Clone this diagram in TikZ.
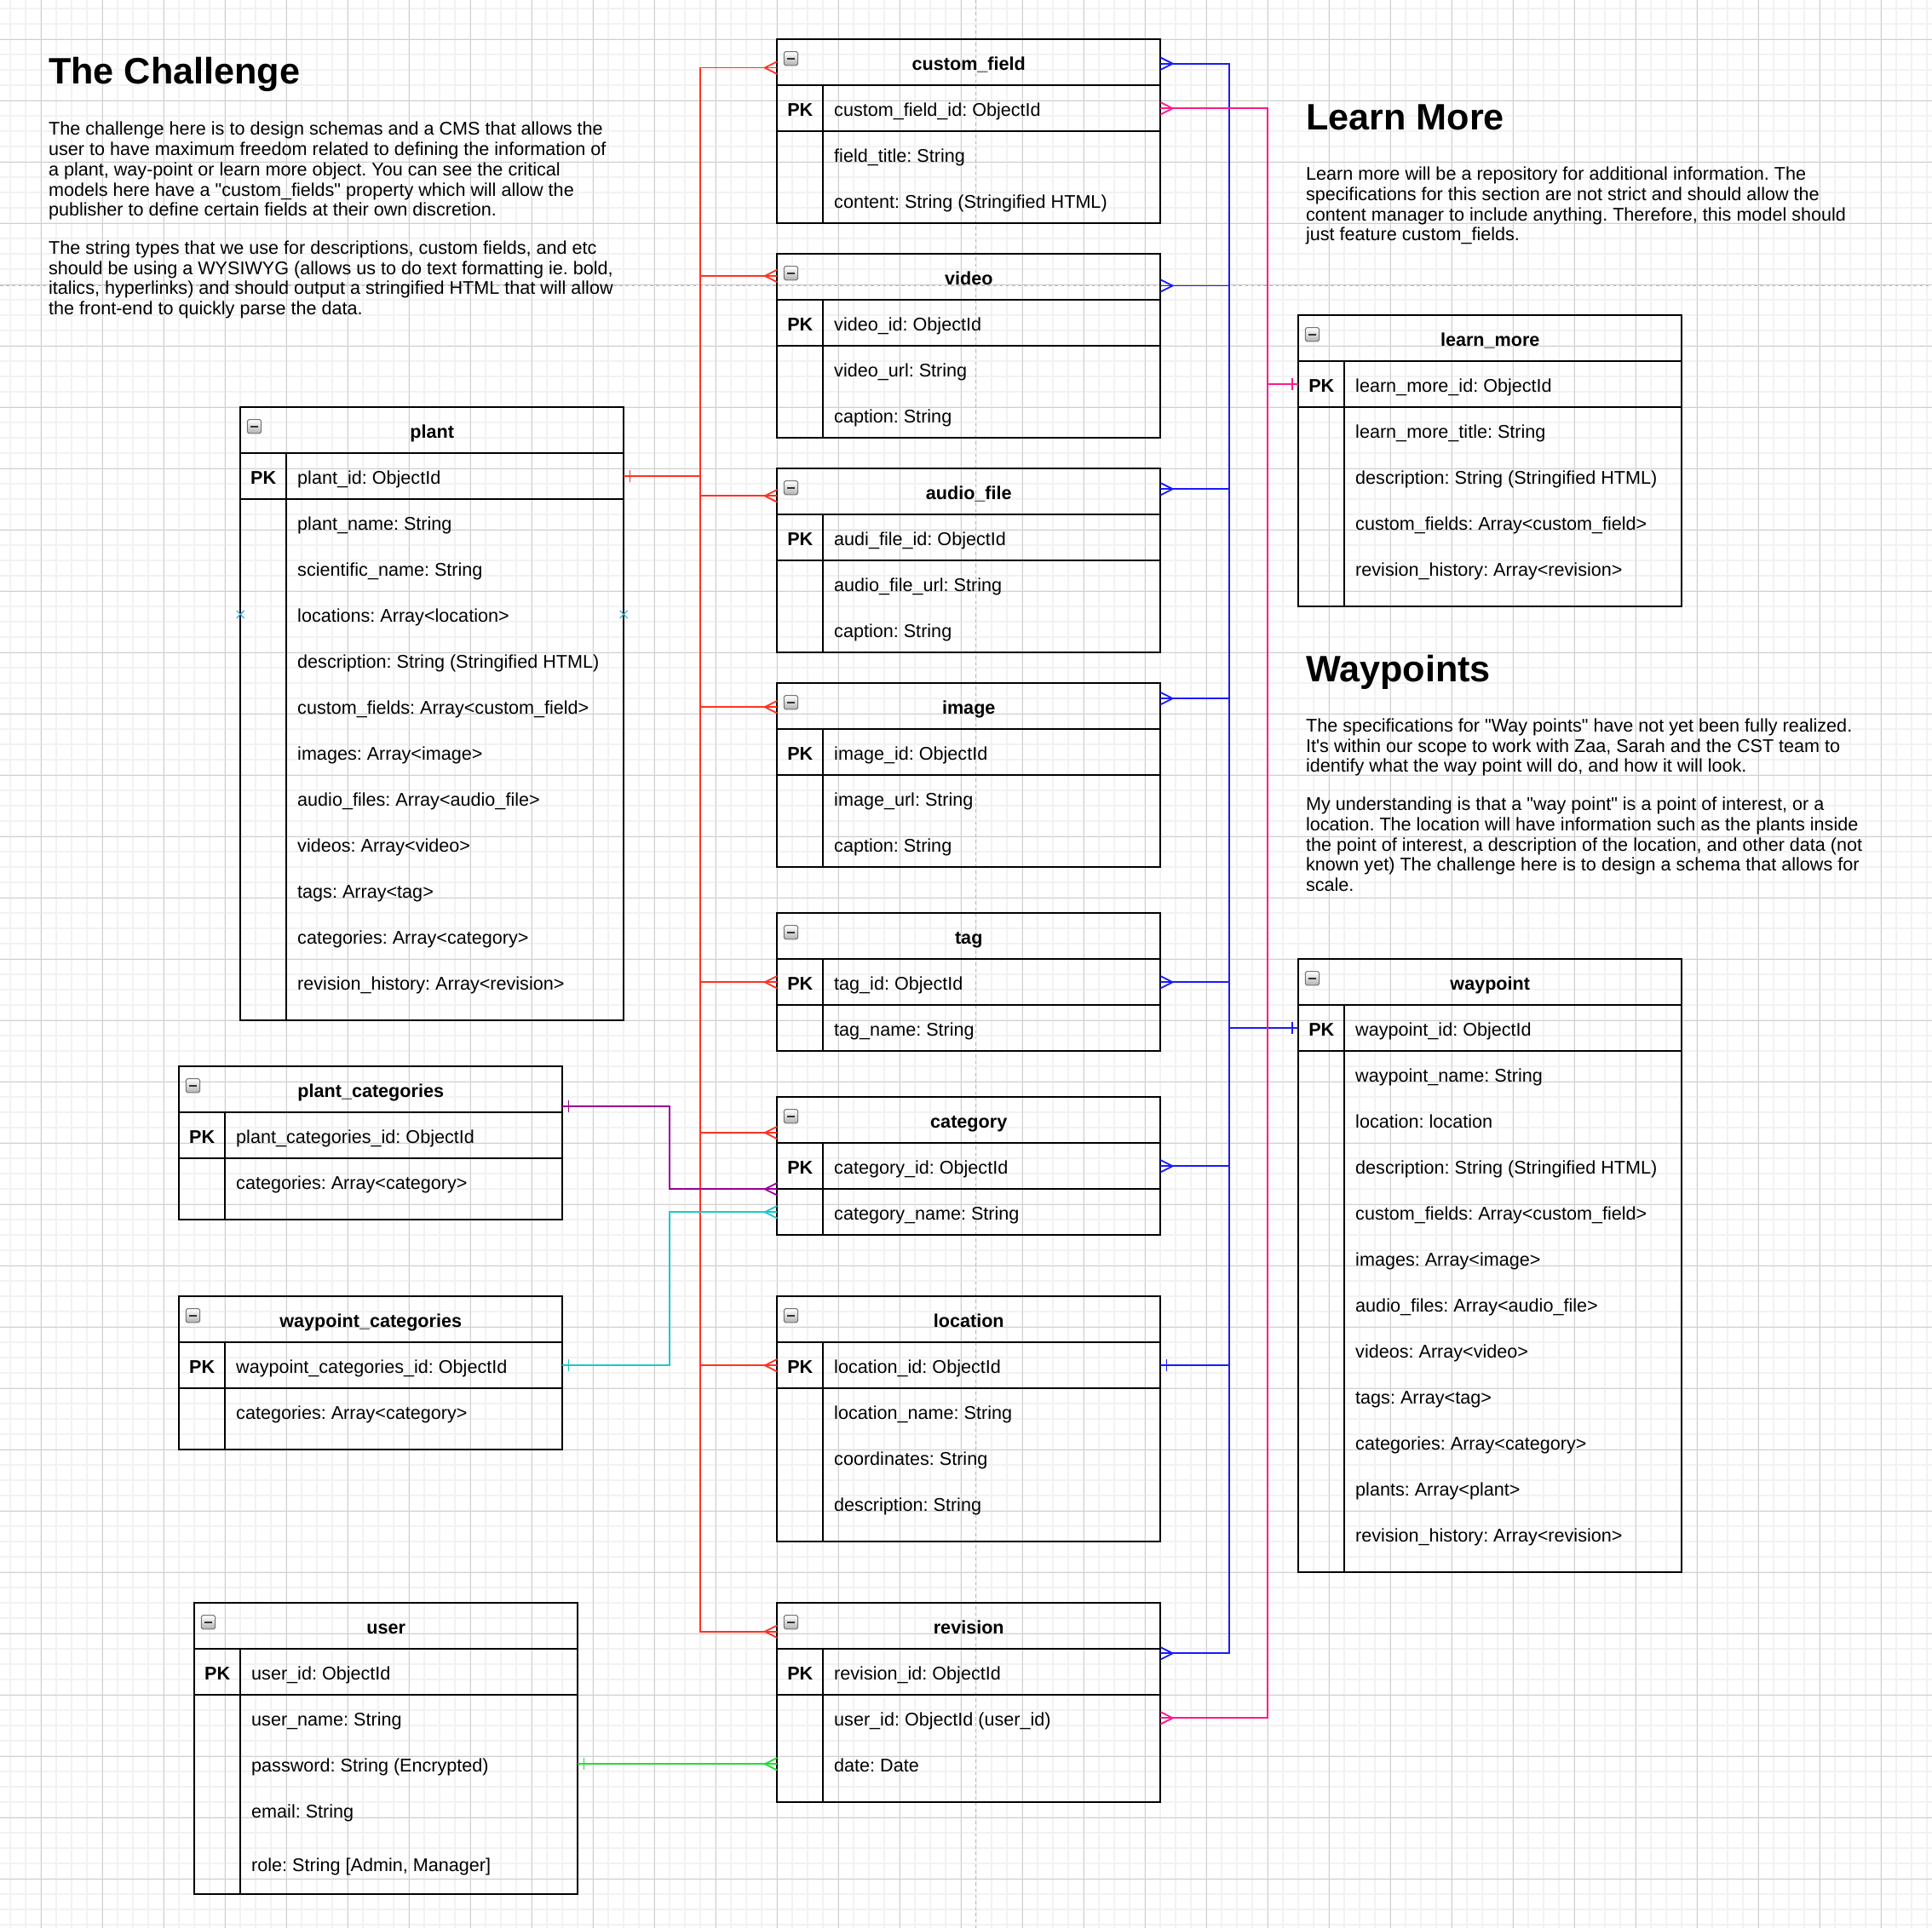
\documentclass[tikz,border=0pt]{standalone}
\usepackage{fontspec}
\setmainfont{Liberation Sans}
\usepackage{tikz}
\usetikzlibrary{arrows.meta}
\definecolor{relRed}{HTML}{FF3322}
\definecolor{relBlue}{HTML}{1A1AFF}
\definecolor{relPink}{HTML}{FF1A8C}
\definecolor{relPurple}{HTML}{990099}
\definecolor{relCyan}{HTML}{1CC8CC}
\definecolor{relGreen}{HTML}{22DD33}
\definecolor{hoverBlue}{HTML}{29A8E0}
\definecolor{gridMinor}{HTML}{F2F2F2}
\definecolor{gridMajor}{HTML}{D0D0D0}

\newcommand{\bodyfont}{\fontsize{12pt}{13.2pt}\selectfont\frenchspacing}
\newcommand{\headfont}{\fontsize{24pt}{28pt}\selectfont\bfseries}

% crow's foot (many) and single bar (one)
\pgfdeclarearrow{
  name=Crow,
  parameters={\the\pgfarrowlength,\the\pgfarrowwidth},
  setup code={
    \pgfarrowssettipend{0pt}
    \pgfarrowssetlineend{0pt}
    \pgfarrowssetbackend{-\pgfarrowlength}
    \pgfarrowssetvisualbackend{-\pgfarrowlength}
    \pgfarrowsupperhullpoint{0pt}{.5\pgfarrowwidth}
    \pgfarrowshullpoint{-\pgfarrowlength}{0pt}
    \pgfarrowssave\pgfarrowlength
    \pgfarrowssave\pgfarrowwidth
  },
  drawing code={
    \pgfsetroundjoin
    \pgfpathmoveto{\pgfqpoint{0pt}{.5\pgfarrowwidth}}
    \pgfpathlineto{\pgfqpoint{-\pgfarrowlength}{0pt}}
    \pgfpathlineto{\pgfqpoint{0pt}{-.5\pgfarrowwidth}}
    \pgfusepathqstroke
  },
  defaults={length=8pt,width=8pt}
}
\pgfdeclarearrow{
  name=One,
  parameters={\the\pgfarrowlength,\the\pgfarrowwidth},
  setup code={
    \pgfarrowssettipend{0pt}
    \pgfarrowssetlineend{0pt}
    \pgfarrowssetbackend{-\pgfarrowlength}
    \pgfarrowssetvisualbackend{-\pgfarrowlength}
    \pgfarrowsupperhullpoint{-\pgfarrowlength}{.5\pgfarrowwidth}
    \pgfarrowssave\pgfarrowlength
    \pgfarrowssave\pgfarrowwidth
  },
  drawing code={
    \pgfpathmoveto{\pgfqpoint{-\pgfarrowlength}{.5\pgfarrowwidth}}
    \pgfpathlineto{\pgfqpoint{-\pgfarrowlength}{-.5\pgfarrowwidth}}
    \pgfusepathqstroke
  },
  defaults={length=4pt,width=8pt}
}

\tikzset{
  erline/.style={line width=1.1pt},
  erhead/.style={draw, erline, minimum width=250pt, minimum height=30pt, inner sep=0pt, outer sep=0pt, anchor=north west, font=\bodyfont\bfseries, text height=11pt, text depth=0.4pt},
  errow/.style={draw, erline, minimum width=250pt, minimum height=30pt, inner sep=0pt, outer sep=0pt, anchor=north west},
  erkey/.style={anchor=base, inner sep=0pt, font=\bodyfont\bfseries},
  erfield/.style={anchor=base west, inner sep=0pt, font=\bodyfont},
  minusicon/.style={rounded corners=1pt, draw=black!55, line width=0.6pt, top color=white, bottom color=black!30},
  rel/.style={line width=1pt},
  note/.style={anchor=base west, inner sep=0pt, align=left, font=\bodyfont},
  notetitle/.style={anchor=base west, inner sep=0pt, font=\headfont},
  pagebreak/.style={gray!55, line width=0.6pt, dash pattern=on 2pt off 2pt},
}

% id, x, y, title, primary key, body height, fields
\newcommand{\ertable}[7]{%
  \node[erhead] (#1-h) at (#2,#3) {#4};
  \node[errow] (#1-pk) at (#1-h.south west) {};
  \node[errow, minimum height=#6pt] (#1-b) at (#1-pk.south west) {};
  \draw[erline] ([xshift=30pt]#1-pk.north west) -- ([xshift=30pt]#1-b.south west);
  \draw[minusicon] ([shift={(4.5,8)}]#1-h.north west) rectangle ++(9,9);
  \draw[line width=1.3pt, black!80] ([shift={(6.5,12.5)}]#1-h.north west) -- ++(5,0);
  \node[erkey] (#1-k) at ([shift={(15,5.3)}]#1-pk.west) {PK};
  \node[erfield] (#1-t0) at ([shift={(37,5.3)}]#1-pk.west) {#5};
  \foreach \r [count=\i] in {#7} {
    \pgfmathsetmacro\off{15+30*(\i-1)}
    \coordinate (#1-r\i) at ([yshift=-\off*1pt]#1-b.north west);
    \node[erfield] (#1-t\i) at ([shift={(37,5.3)}]#1-r\i) {\r};
  }
}

\begin{document}
\begin{tikzpicture}[x=1pt,y=-1pt]
\fill[white] (0,0) rectangle (1260,1257.8);
\useasboundingbox (0,0) rectangle (1260,1257.8);
\foreach \k in {0,...,125}{
  \draw[gridMinor, line width=0.9pt] ({6.8+10*\k},0) -- ++(0,1257.8);
  \draw[gridMinor, line width=0.9pt] (0,{5.7+10*\k}) -- ++(1260,0);
}
\foreach \k in {0,...,30}{
  \draw[gridMajor, line width=0.5pt] ({26.8+40*\k},0) -- ++(0,1257.8);
  \draw[gridMajor, line width=0.5pt] (0,{25.7+40*\k}) -- ++(1260,0);
}
\draw[pagebreak] (636.5,0) -- (636.5,1257.8);
\draw[pagebreak] (0,186.5) -- (1260,186.5);

% multi-line notes sit on the baseline of their last line
\node[notetitle] (challenge) at (31.5,54.8) {The Challenge};
\node[note] (challenge-p1) at (31.5,141.1) {The challenge here is to design schemas and a CMS that allows the\\
user to have maximum freedom related to defining the information of\\
a plant, way-point or learn more object. You can see the critical\\
models here have a \textquotedbl custom\_fields\textquotedbl{} property which will allow the\\
publisher to define certain fields at their own discretion.};
\node[note] (challenge-p2) at (31.5,205.3) {The string types that we use for descriptions, custom fields, and etc\\
should be using a WYSIWYG (allows us to do text formatting ie. bold,\\
italics, hyperlinks) and should output a stringified HTML that will allow\\
the front-end to quickly parse the data.};

\node[notetitle] (learnmore) at (851.5,84.6) {Learn More};
\node[note] (learnmore-p) at (851.5,157.2) {Learn more will be a repository for additional information. The\\
specifications for this section are not strict and should allow the\\
content manager to include anything. Therefore, this model should\\
just feature custom\_fields.};

\node[notetitle] (waypoints) at (851.5,444.6) {Waypoints};
\node[note] (waypoints-p1) at (851.5,503.8) {The specifications for \textquotedbl Way points\textquotedbl{} have not yet been fully realized.\\
It\textquotesingle s within our scope to work with Zaa, Sarah and the CST team to\\
identify what the way point will do, and how it will look.};
\node[note] (waypoints-p2) at (851.5,581.5) {My understanding is that a \textquotedbl way point\textquotedbl{} is a point of interest, or a\\
location. The location will have information such as the plants inside\\
the point of interest, a description of the location, and other data (not\\
known yet) The challenge here is to design a schema that allows for\\
scale.};

\ertable{cf}{506.8}{25.7}{custom\_field}{custom\_field\_id: ObjectId}{60}{field\_title: String, content: String (Stringified HTML)}
\ertable{video}{506.8}{165.7}{video}{video\_id: ObjectId}{60}{video\_url: String, caption: String}
\ertable{audio}{506.8}{305.7}{audio\_file}{audi\_file\_id: ObjectId}{60}{audio\_file\_url: String, caption: String}
\ertable{image}{506.8}{445.7}{image}{image\_id: ObjectId}{60}{image\_url: String, caption: String}
\ertable{tag}{506.8}{595.7}{tag}{tag\_id: ObjectId}{30}{tag\_name: String}
\ertable{cat}{506.8}{715.7}{category}{category\_id: ObjectId}{30}{category\_name: String}
\ertable{loc}{506.8}{845.7}{location}{location\_id: ObjectId}{100}{location\_name: String, coordinates: String, description: String}
\ertable{rev}{506.8}{1045.7}{revision}{revision\_id: ObjectId}{70}{user\_id: ObjectId (user\_id), date: Date}

\ertable{plant}{156.8}{265.7}{plant}{plant\_id: ObjectId}{340}{plant\_name: String, scientific\_name: String, locations: Array<location>, description: String (Stringified HTML), custom\_fields: Array<custom\_field>, images: Array<image>, audio\_files: Array<audio\_file>, videos: Array<video>, tags: Array<tag>, categories: Array<category>, revision\_history: Array<revision>}
\ertable{pc}{116.8}{695.7}{plant\_categories}{plant\_categories\_id: ObjectId}{40}{categories: Array<category>}
\ertable{wc}{116.8}{845.7}{waypoint\_categories}{waypoint\_categories\_id: ObjectId}{40}{categories: Array<category>}
\ertable{user}{126.8}{1045.7}{user}{user\_id: ObjectId}{130}{user\_name: String, password: String (Encrypted), email: String}
\node[erfield] (user-t4) at ([shift={(37,115.3)}]user-b.north west) {role: String [Admin, Manager]};

\ertable{lm}{846.8}{205.7}{learn\_more}{learn\_more\_id: ObjectId}{130}{learn\_more\_title: String, description: String (Stringified HTML), custom\_fields: Array<custom\_field>, revision\_history: Array<revision>}
\ertable{wp}{846.8}{625.7}{waypoint}{waypoint\_id: ObjectId}{340}{waypoint\_name: String, location: location, description: String (Stringified HTML), custom\_fields: Array<custom\_field>, images: Array<image>, audio\_files: Array<audio\_file>, videos: Array<video>, tags: Array<tag>, categories: Array<category>, plants: Array<plant>, revision\_history: Array<revision>}

\foreach \p in {plant-r3, plant-b.east |- plant-r3}
  \draw[hoverBlue, line width=0.6pt] (\p) +(-2.5,-2.5) -- +(2.5,2.5) +(-2.5,2.5) -- +(2.5,-2.5);

\coordinate (redbus) at (456.7,0);
\coordinate (bluebus) at (801.5,0);
\coordinate (pinkbus) at (826.8,0);
\coordinate (catbus) at (436.8,0);

\coordinate (cf-in) at ([yshift=-3.5pt]cf-h.west);
\coordinate (video-in) at ([yshift=0.7pt]video-h.west);
\coordinate (audio-in) at ([yshift=-2.8pt]audio-h.west);
\coordinate (image-in) at ([yshift=-0.5pt]image-h.west);
\coordinate (cat-in) at ([yshift=-8.2pt]cat-h.west);
\coordinate (rev-in) at ([yshift=-3.6pt]rev-h.west);

\coordinate (cf-out) at ([yshift=-0.8pt]cf-h.east);
\coordinate (video-out) at ([yshift=-5.7pt]video-h.east);
\coordinate (audio-out) at ([yshift=1.7pt]audio-h.east);
\coordinate (image-out) at ([yshift=5.1pt]image-h.east);
\coordinate (rev-out) at ([yshift=-2.8pt]rev-pk.north east);
\coordinate (pc-out) at ([yshift=-11pt]pc-h.east);

\foreach \t in {cf-in, video-in, audio-in, image-in, tag-pk.west, cat-in, loc-pk.west, rev-in}
  \draw[relRed, rel, {One}-{Crow}] (plant-pk.east) -- (redbus |- plant-pk.east) |- (\t);

\foreach \s in {cf-out, video-out, audio-out, image-out, tag-pk.east, cat-pk.east, rev-out}
  \draw[relBlue, rel, {Crow}-{One}] (\s) -- (bluebus |- \s) |- (wp-pk.west);
\draw[relBlue, rel, {One}-{One}] (loc-pk.east) -- (bluebus |- loc-pk.east) |- (wp-pk.west);

\draw[relPink, rel, {One}-{Crow}] (lm-pk.west) -- (pinkbus |- lm-pk.west) |- (cf-pk.east);
\draw[relPink, rel, {One}-{Crow}] (lm-pk.west) -- (pinkbus |- lm-pk.west) |- (rev-b.east |- rev-r1);

\draw[relPurple, rel, {One}-{Crow}] (pc-out) -- (catbus |- pc-out) |- (cat-pk.south west);
\draw[relCyan, rel, {One}-{Crow}] (wc-pk.east) -- (catbus |- wc-pk.east) |- (cat-r1);
\draw[relGreen, rel, {One}-{Crow}] (user-b.east |- user-r2) -- (rev-r2);
\end{tikzpicture}
\end{document}
